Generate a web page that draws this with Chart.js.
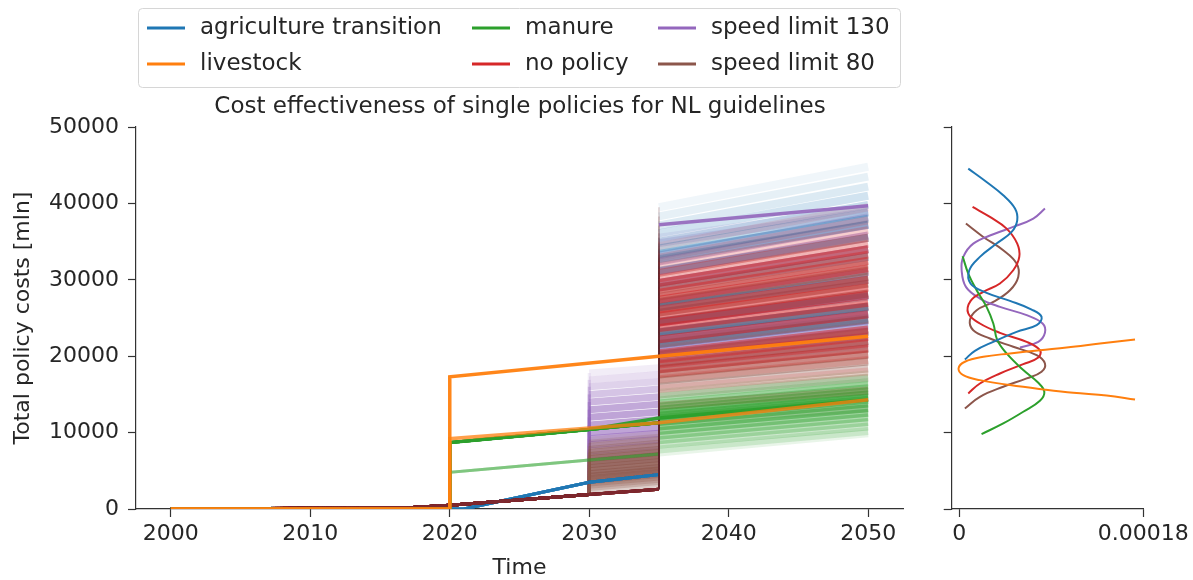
<!DOCTYPE html>
<html><head><meta charset="utf-8">
<script src="https://cdn.jsdelivr.net/npm/chart.js@4.4.1/dist/chart.umd.min.js"></script>
<style>
html,body{margin:0;padding:0;background:#fff;}
#wrap{position:relative;width:1193px;height:580px;overflow:hidden;background:#fff;}
#c1{position:absolute;left:0;top:0;width:915px;height:580px;}
#c2{position:absolute;left:915px;top:0;width:278px;height:580px;}
</style></head><body>
<div id="wrap"><canvas id="c1" width="915" height="580"></canvas><canvas id="c2" width="278" height="580"></canvas></div>
<script>
// ---------- labels ----------
const policies = ['agriculture transition','livestock','manure','no policy','speed limit 130','speed limit 80'];
const policyColors = ['#1f77b4','#ff7f0e','#2ca02c','#d62728','#9467bd','#8c564b'];
const titleText = 'Cost effectiveness of single policies for NL guidelines';
const xTitle = 'Time';
const yTitle = 'Total policy costs [mln]';
const yearTicks = [2000, 2010, 2020, 2030, 2040, 2050];
const costTicks = [0, 10000, 20000, 30000, 40000, 50000];
const densityTicks = [0, 0.00018];
const densityTickLabels = ['0', '0.00018'];

// ---------- shared early paths ----------
const baseYears = [2000, 2017, 2020, 2030];
const baseVals  = [0, 150, 500, 1900];
const noPolicyPre2035 = 2600;

// agriculture transition
const agriPathYears = [2000, 2021, 2030, 2035];
const agriPathVals  = [0, 0, 3500, 4500];
const agriAt2035 = [39500, 38300, 37100, 36100, 35000, 34100, 33400, 32700, 31200, 29000, 26400, 24500, 23200, 22500, 22000, 21400, 20400, 18900];
const agriAt2050 = [44800, 43500, 42200, 41000, 39800, 38800, 38000, 37200, 35500, 33000, 30000, 27800, 26400, 25600, 25000, 24300, 23200, 21500];

// livestock
const livestockYears = [2000, 2020, 2020, 2035, 2050];
const livestockHigh  = [0, 0, 17300, 20000, 22600];
const livestockLow   = [0, 0, 9200, 11300, 14300];

// manure
const manurePathYears = [2000, 2020, 2020, 2030, 2035];
const manureHigh = [0, 0, 8700, 10400, 11300];
const manureLow  = [0, 0, 4800, 6400, 7200];
const manureBranch = [1, 1, 1, 1, 1, 1, 1, 1, 1, 1, 1, 1, 1, 0, 0, 0, 0, 1, 1, 1];
const manureAt2035 = [15200, 14700, 14200, 13800, 13400, 13000, 12600, 12200, 11900, 11400, 10800, 10200, 9600, 9000, 8400, 7800, 7400, 17000, 20200, 24800];
const manureAt2050 = [17600, 17100, 16600, 16200, 15800, 15400, 15000, 14600, 14300, 13800, 13200, 12600, 12000, 11400, 10800, 10200, 9900, 19500, 23000, 28000];
const manureMainYears = [2000, 2020, 2020, 2030, 2035, 2050];
const manureMain = [0, 0, 8700, 10400, 11900, 14300];

// no policy
const noPolicyAt2035 = [34400, 32900, 31800, 30900, 30200, 29600, 29000, 28300, 27400, 26100, 25300, 24400, 23700, 22200, 20400, 19600, 18900, 18300, 17700, 17000, 15700, 13500];
const noPolicyAt2050 = [39500, 37800, 36500, 35500, 34700, 34000, 33300, 32500, 31500, 30000, 29000, 28000, 27000, 25500, 23500, 22500, 21700, 21000, 20300, 19500, 18000, 15500];

// speed limit 130
const speed130At2030  = [17800, 16900, 16000, 15000, 14000, 13000, 12000, 11000, 10000, 9200, 8400, 7600, 6800, 5800, 4800, 3800];
const speed130Pre2035 = [18500, 17600, 16700, 15700, 14700, 13700, 12700, 11700, 10700, 9900, 9100, 8300, 7500, 6500, 5500, 4500];
const speed130At2035  = [35500, 34800, 33200, 32400, 31100, 29600, 27000, 24400, 23100, 22200, 21500, 20900, 20300, 19700, 19000, 18400];
const speed130At2050  = [39300, 38900, 38200, 37200, 35800, 34000, 31000, 28000, 26500, 25500, 24700, 24000, 23300, 22600, 21800, 21100];
const speed130MainYears = [2035, 2050];
const speed130Main = [37200, 39700];

// speed limit 80
const speed80At2030  = [9000, 8600, 8200, 7800, 7400, 7000, 6600, 6200, 5800, 5400, 5000, 4600, 4300, 4000, 3700, 3400, 3100, 2800, 2500, 2200];
const speed80Pre2035 = [9800, 9400, 9000, 8600, 8200, 7800, 7400, 7000, 6600, 6200, 5800, 5400, 5100, 4800, 4500, 4200, 3900, 3600, 3300, 3000];
const speed80At2035  = [32500, 30900, 29600, 28700, 27800, 27100, 26400, 25700, 24500, 23100, 21600, 20200, 19100, 18300, 17600, 16800, 16000, 15000, 13500, 11500];
const speed80At2050  = [37300, 35500, 34000, 33000, 32000, 31200, 30400, 29500, 28200, 26500, 24800, 23200, 22000, 21000, 20200, 19300, 18400, 17200, 15500, 13200];

// ---------- right panel density curves ----------
const kdeAgriD = [8.8e-6, 26.7e-6, 43.0e-6, 54.5e-6, 56.7e-6, 51.2e-6, 36.5e-6, 20.2e-6, 9.8e-6, 11.1e-6, 26.7e-6, 49.6e-6, 70.8e-6, 80.5e-6, 75.7e-6, 56.1e-6, 33.3e-6, 15.3e-6, 5.5e-6];
const kdeAgriV = [44550, 42800, 41060, 39320, 37790, 36270, 34740, 33000, 31250, 29510, 28290, 27240, 26110, 25150, 24060, 23190, 21880, 20710, 19570];
const kdeLiveD = [171.9e-6, 137.6e-6, 105.0e-6, 78.9e-6, 49.6e-6, 23.5e-6, 5.5e-6, -0.7e-6, 3.9e-6, 20.2e-6, 49.6e-6, 82.2e-6, 111.5e-6, 144.1e-6, 171.9e-6];
const kdeLiveV = [22190, 21660, 21140, 20790, 20360, 19920, 19270, 18400, 17520, 16870, 16220, 15650, 15210, 14860, 14340];
const kdeManD = [3.3e-6, 8.8e-6, 17.0e-6, 26.7e-6, 33.3e-6, 37.2e-6, 46.3e-6, 62.6e-6, 77.3e-6, 83.2e-6, 78.9e-6, 62.6e-6, 43.0e-6, 21.8e-6];
const kdeManV = [33090, 30820, 28640, 26460, 24280, 22100, 20360, 18180, 16520, 15340, 14170, 12730, 11200, 9810];
const kdeNoD = [13.0e-6, 30.0e-6, 46.3e-6, 56.7e-6, 58.7e-6, 52.8e-6, 39.8e-6, 23.5e-6, 11.1e-6, 8.8e-6, 20.2e-6, 39.8e-6, 65.9e-6, 78.9e-6, 77.3e-6, 62.6e-6, 39.8e-6, 20.2e-6, 8.8e-6];
const kdeNoV = [39540, 38230, 36700, 34740, 33000, 31250, 29510, 28420, 27240, 25590, 24280, 23060, 21880, 20790, 19830, 18960, 17740, 16430, 15130];
const kde130D = [83.8e-6, 72.4e-6, 52.8e-6, 33.3e-6, 13.7e-6, 3.9e-6, 2.3e-6, 6.5e-6, 20.2e-6, 39.8e-6, 65.9e-6, 81.5e-6, 83.8e-6, 77.3e-6, 59.4e-6];
const kde130V = [39320, 38010, 36920, 35960, 34740, 33000, 31250, 29070, 27550, 26460, 25370, 24280, 23060, 21880, 21140];
const kde80D = [6.5e-6, 23.5e-6, 43.0e-6, 56.1e-6, 57.7e-6, 49.6e-6, 33.3e-6, 17.0e-6, 10.4e-6, 13.7e-6, 30.0e-6, 52.8e-6, 75.7e-6, 83.8e-6, 80.5e-6, 65.9e-6, 43.0e-6, 20.2e-6, 5.5e-6];
const kde80V = [37360, 35610, 33870, 32130, 30380, 28640, 27110, 26020, 24720, 23410, 22320, 21230, 20140, 19050, 17960, 17090, 16000, 14690, 13160];

// ---------- helpers ----------
const FONT = '"DejaVu Sans", sans-serif';
const TXT = '#262626';
const AX = '#333333';
const JUMP = 'rgba(95,35,40,0.22)';
const DARK = 'rgba(125,40,45,0.35)';
function rgba(hex, a){const n=parseInt(hex.slice(1),16);return `rgba(${n>>16&255},${n>>8&255},${n&255},${a})`;}
function pts(xs, ys){return xs.map((x,i)=>({x:x,y:ys[i]}));}
function fade(i,n,base){const mid=(n-1)/2;return Math.min(0.9,base*(0.2+0.8*Math.min(1,1.4*(1-Math.abs(i-mid)/mid))));}
const W = 8;
function run(data,color,alpha,order,kind){
  const col=rgba(color,alpha);
  const width=c=>{const a=c.p0.parsed.x,b=c.p1.parsed.x;
    if(a===b) return a===2035?1.5:3;
    if(b<=2030) return 3;
    if(b<=2035) return kind==='base'?7:3;
    return W;};
  const colour=c=>{const a=c.p0.parsed.x,b=c.p1.parsed.x;
    if(a===b && a===2035) return JUMP;
    if(kind==='none' && b<=2035) return DARK;
    if(kind==='base' && b<=2030 && a<2030) return DARK;
    return col;};
  return {data:data,borderColor:col,borderWidth:W,pointRadius:0,showLine:true,fill:false,tension:0,order:order,borderCapStyle:'butt',
    segment:{borderWidth:width,borderColor:colour}};
}
function bold(data,color,alpha,order){return {data:data,borderColor:rgba(color,alpha),borderWidth:3.5,pointRadius:0,showLine:true,fill:false,tension:0,order:order};}

const ds = [];
speed130At2035.forEach((v,i)=>ds.push(run(pts(baseYears.concat([2030,2035,2035,2050]), baseVals.concat([speed130At2030[i], speed130Pre2035[i], v, speed130At2050[i]])), policyColors[4], fade(i,speed130At2035.length,0.6), 60, 'base')));
speed80At2035.forEach((v,i)=>ds.push(run(pts(baseYears.concat([2030,2035,2035,2050]), baseVals.concat([speed80At2030[i], speed80Pre2035[i], v, speed80At2050[i]])), policyColors[5], fade(i,speed80At2035.length,0.6), 50, 'base')));
agriAt2035.forEach((v,i)=>ds.push(run(pts(agriPathYears.concat([2035,2050]), agriPathVals.concat([v, agriAt2050[i]])), policyColors[0], fade(i,agriAt2035.length,0.34), 45, 'own')));
manureAt2035.forEach((v,i)=>{const p=manureBranch[i]?manureHigh:manureLow;ds.push(run(pts(manurePathYears.concat([2035,2050]), p.concat([v, manureAt2050[i]])), policyColors[2], fade(i,17,0.5), 40, 'own'));});
noPolicyAt2035.forEach((v,i)=>ds.push(run(pts(baseYears.concat([2035,2035,2050]), baseVals.concat([noPolicyPre2035, v, noPolicyAt2050[i]])), policyColors[3], fade(i,noPolicyAt2035.length,0.55), 20, 'none')));
ds.push(bold(pts(manureMainYears, manureMain), policyColors[2], 0.95, 5));
ds.push(bold(pts(livestockYears, livestockLow), policyColors[1], 0.75, 4));
ds.push(bold(pts(livestockYears, livestockHigh), policyColors[1], 0.95, 3));
ds.push(bold(pts(speed130MainYears, speed130Main), policyColors[4], 0.9, 2));

const overlay = {
  id:'overlay',
  afterDraw(chart){
    const ctx = chart.ctx;
    ctx.save();
    const bx=138.5, by=8.5, bw=762, bh=79, r=4;
    ctx.beginPath();
    ctx.moveTo(bx+r,by);ctx.lineTo(bx+bw-r,by);ctx.quadraticCurveTo(bx+bw,by,bx+bw,by+r);
    ctx.lineTo(bx+bw,by+bh-r);ctx.quadraticCurveTo(bx+bw,by+bh,bx+bw-r,by+bh);
    ctx.lineTo(bx+r,by+bh);ctx.quadraticCurveTo(bx,by+bh,bx,by+bh-r);
    ctx.lineTo(bx,by+r);ctx.quadraticCurveTo(bx,by,bx+r,by);ctx.closePath();
    ctx.fillStyle='rgba(255,255,255,0.85)';ctx.fill();
    ctx.strokeStyle='#d6d6d6';ctx.lineWidth=1;ctx.stroke();
    const colX=[147,472,658], rowY=[28,64];
    ctx.font='23px '+FONT;ctx.textBaseline='middle';ctx.textAlign='left';
    policies.forEach((p,i)=>{
      const c=Math.floor(i/2), rr=i%2;
      const x=colX[c], y=rowY[rr];
      ctx.strokeStyle=policyColors[i];ctx.lineWidth=3;
      ctx.beginPath();ctx.moveTo(x,y);ctx.lineTo(x+38,y);ctx.stroke();
      ctx.fillStyle=TXT;ctx.fillText(p,x+53,y);
    });
    ctx.textAlign='center';ctx.fillStyle=TXT;ctx.font='23px '+FONT;
    ctx.fillText(titleText,520,107);
    ctx.restore();
  }
};

Chart.defaults.font.family = FONT;
Chart.defaults.color = TXT;

new Chart(document.getElementById('c1'), {
  type:'scatter',
  data:{datasets:ds},
  options:{
    responsive:false, animation:false, events:[],
    layout:{padding:{top:127,right:12,left:0,bottom:0}},
    plugins:{legend:{display:false},tooltip:{enabled:false},title:{display:false}},
    scales:{
      x:{type:'linear',min:1997.5,max:2052.5,
        afterBuildTicks:s=>{s.ticks=yearTicks.map(v=>({value:v}));},
        afterFit:s=>{s.height=71;},
        ticks:{font:{size:22},color:TXT,padding:4,maxRotation:0,callback:v=>String(v)},
        grid:{display:true,drawOnChartArea:false,drawTicks:true,tickLength:8,color:AX,tickWidth:1.2},
        border:{display:true,color:AX,width:1.2},
        title:{display:true,text:xTitle,font:{size:22},color:TXT,padding:{top:0,bottom:-1}}},
      y:{type:'linear',min:0,max:50000,
        afterBuildTicks:s=>{s.ticks=costTicks.map(v=>({value:v}));},
        afterFit:s=>{s.width=136;},
        ticks:{font:{size:22},color:TXT,padding:9,callback:v=>String(v)},
        grid:{display:true,drawOnChartArea:false,drawTicks:true,tickLength:8,color:AX,tickWidth:1.2},
        border:{display:true,color:AX,width:1.2},
        title:{display:true,text:yTitle,font:{size:22},color:TXT,padding:{top:10,bottom:0}}}
    }
  },
  plugins:[overlay]
});

const kde = [[kdeAgriD,kdeAgriV],[kdeLiveD,kdeLiveV],[kdeManD,kdeManV],[kdeNoD,kdeNoV],[kde130D,kde130V],[kde80D,kde80V]];
new Chart(document.getElementById('c2'), {
  type:'scatter',
  data:{datasets:kde.map((k,i)=>({data:pts(k[0],k[1]),borderColor:policyColors[i],borderWidth:2,pointRadius:0,showLine:true,fill:false,tension:0.4}))},
  options:{
    responsive:false, animation:false, events:[],
    layout:{padding:{top:127,right:49.7,left:0,bottom:0}},
    plugins:{legend:{display:false},tooltip:{enabled:false}},
    scales:{
      x:{type:'linear',min:-0.0000074,max:0.00018,
        afterBuildTicks:s=>{s.ticks=densityTicks.map(v=>({value:v}));},
        afterFit:s=>{s.height=71;},
        ticks:{font:{size:22},color:TXT,padding:4,maxRotation:0,autoSkip:false,callback:(v,i)=>densityTickLabels[i]},
        grid:{display:true,drawOnChartArea:false,drawTicks:true,tickLength:8,color:AX,tickWidth:1.2},
        border:{display:true,color:AX,width:1.2}},
      y:{type:'linear',min:0,max:50000,
        afterBuildTicks:s=>{s.ticks=costTicks.map(v=>({value:v}));},
        afterFit:s=>{s.width=36.7;},
        ticks:{display:false},
        grid:{display:true,drawOnChartArea:false,drawTicks:true,tickLength:8,color:AX,tickWidth:1.2},
        border:{display:true,color:AX,width:1.2}}
    }
  }
});
</script></body></html>
